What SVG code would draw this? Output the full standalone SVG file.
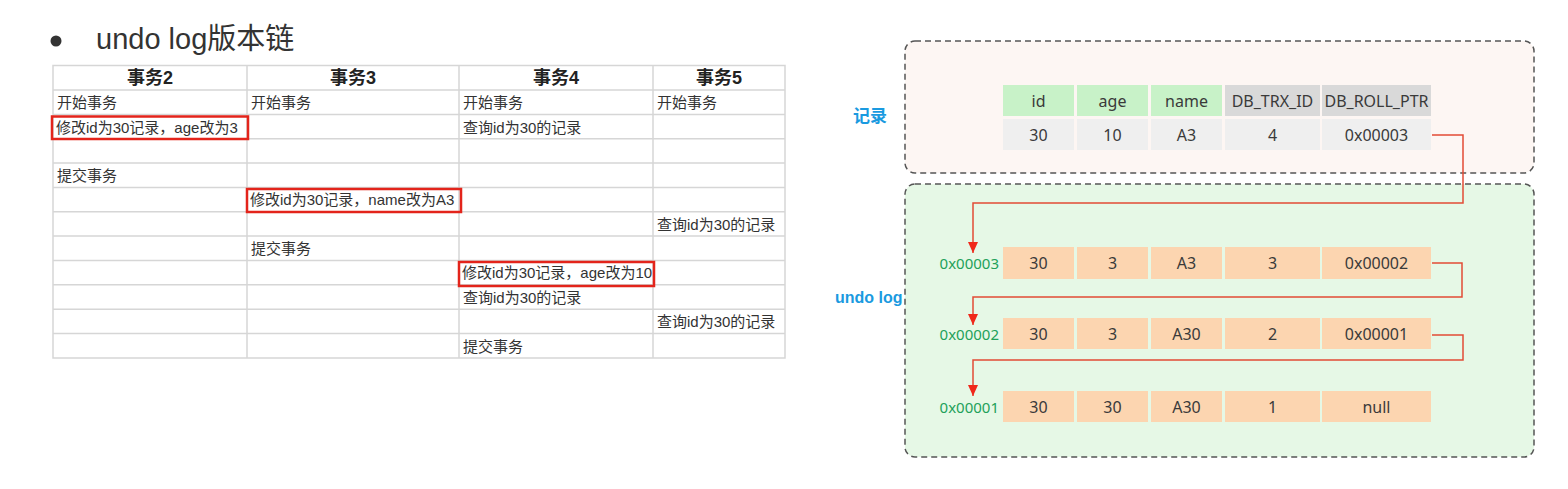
<svg xmlns="http://www.w3.org/2000/svg" width="1568" height="489" viewBox="0 0 1568 489">
<style>
.t{font-family:"Liberation Sans","Noto Sans CJK SC",sans-serif;font-size:15px;fill:#333}
.th{font-family:"Liberation Sans","Noto Sans CJK SC",sans-serif;font-size:18px;font-weight:bold;fill:#222;text-anchor:middle}
.grid{stroke:#d6d6d6;stroke-width:1.5;fill:none}
.hl{fill:none;stroke:#e3241b;stroke-width:2.5}
.c{font-family:"Noto Sans","Liberation Sans",sans-serif;font-size:16px;fill:#3a3a3a;text-anchor:middle;dominant-baseline:central}
.addr{font-family:"Noto Sans","Liberation Sans",sans-serif;font-size:15px;fill:#22a15a;text-anchor:end;dominant-baseline:central}
.side{font-family:"Liberation Sans","Noto Sans CJK SC",sans-serif;font-weight:bold;fill:#1a9ae0;dominant-baseline:central}
.hg{fill:#c8f2c8}.hx{fill:#d9d9d9}.rd{fill:#efefef}.ud{fill:#fcd5b0}
.box{stroke:#555;stroke-width:1.5;stroke-dasharray:6 4}
.conn{fill:none;stroke:#e24b36;stroke-width:1.5}
</style>
<defs>
<marker id="ah" markerUnits="userSpaceOnUse" markerWidth="12" markerHeight="12" viewBox="0 0 12 12" refX="11" refY="6" orient="auto">
<path d="M0 1 L11 6 L0 11 Z" fill="#f0281a"/>
</marker>
</defs>
<rect width="1568" height="489" fill="#fff"/>

<g id="title">
<circle cx="56" cy="41" r="5.5" fill="#333"/>
<text x="96" y="49" font-family="Liberation Sans,Noto Sans CJK SC,sans-serif" font-size="29" fill="#333">undo log版本链</text>
</g>

<g id="table">
<rect x="53" y="65.5" width="732" height="292.5" fill="#fff" class="grid"/>
<path class="grid" d="M53 90H785M53 114.4H785M53 138.7H785M53 163H785M53 187.4H785M53 211.8H785M53 236.1H785M53 260.5H785M53 284.8H785M53 309.2H785M53 333.5H785M247 65.5V358M459 65.5V358M653 65.5V358"/>
<text class="th" x="150" y="84">事务2</text>
<text class="th" x="353" y="84">事务3</text>
<text class="th" x="556" y="84">事务4</text>
<text class="th" x="719" y="84">事务5</text>
<text class="t" x="57" y="108">开始事务</text>
<text class="t" x="251" y="108">开始事务</text>
<text class="t" x="463" y="108">开始事务</text>
<text class="t" x="657" y="108">开始事务</text>
<text class="t" x="56" y="133">修改id为30记录，age改为3</text>
<text class="t" x="463" y="133">查询id为30的记录</text>
<text class="t" x="57" y="181">提交事务</text>
<text class="t" x="250" y="205">修改id为30记录，name改为A3</text>
<text class="t" x="657" y="230">查询id为30的记录</text>
<text class="t" x="251" y="254">提交事务</text>
<text class="t" x="462" y="278">修改id为30记录，age改为10</text>
<text class="t" x="463" y="303">查询id为30的记录</text>
<text class="t" x="657" y="327">查询id为30的记录</text>
<text class="t" x="463" y="352">提交事务</text>
<rect class="hl" x="52" y="116.5" width="196" height="22.5"/>
<rect class="hl" x="247" y="189" width="214" height="23"/>
<rect class="hl" x="459" y="262" width="195" height="24"/>
</g>

<g id="record-area">
<rect class="box" x="905" y="41" width="629" height="132" rx="10" fill="#fdf6f3"/>
<text class="side" x="853" y="116" font-size="17">记录</text>
</g>

<g id="undo-area">
<rect class="box" x="905" y="184" width="629" height="273" rx="10" fill="#e6f8e6"/>
<text class="side" x="835" y="297" font-size="16">undo log</text>
</g>

<g id="record">
<rect class="hg" x="1003" y="85" width="71" height="31"/>
<rect class="hg" x="1077" y="85" width="71" height="31"/>
<rect class="hg" x="1151" y="85" width="71" height="31"/>
<rect class="hx" x="1225" y="85" width="95" height="31"/>
<rect class="hx" x="1322" y="85" width="109" height="31"/>
<rect class="rd" x="1003" y="119" width="71" height="31"/>
<rect class="rd" x="1077" y="119" width="71" height="31"/>
<rect class="rd" x="1151" y="119" width="71" height="31"/>
<rect class="rd" x="1225" y="119" width="95" height="31"/>
<rect class="rd" x="1322" y="119" width="109" height="31"/>
<text class="c" x="1038.5" y="100.5">id</text>
<text class="c" x="1112.5" y="100.5">age</text>
<text class="c" x="1186.5" y="100.5">name</text>
<text class="c" x="1272.5" y="100.5">DB_TRX_ID</text>
<text class="c" x="1376.5" y="100.5">DB_ROLL_PTR</text>
<text class="c" x="1038.5" y="134.5">30</text>
<text class="c" x="1112.5" y="134.5">10</text>
<text class="c" x="1186.5" y="134.5">A3</text>
<text class="c" x="1272.5" y="134.5">4</text>
<text class="c" x="1376.5" y="134.5">0x00003</text>
</g>

<g id="undo-0x00003">
<text class="addr" x="999" y="263">0x00003</text>
<rect class="ud" x="1003" y="247" width="71" height="32"/>
<rect class="ud" x="1077" y="247" width="71" height="32"/>
<rect class="ud" x="1151" y="247" width="71" height="32"/>
<rect class="ud" x="1225" y="247" width="95" height="32"/>
<rect class="ud" x="1322" y="247" width="109" height="32"/>
<text class="c" x="1038.5" y="263">30</text>
<text class="c" x="1112.5" y="263">3</text>
<text class="c" x="1186.5" y="263">A3</text>
<text class="c" x="1272.5" y="263">3</text>
<text class="c" x="1376.5" y="263">0x00002</text>
</g>

<g id="undo-0x00002">
<text class="addr" x="999" y="334">0x00002</text>
<rect class="ud" x="1003" y="318" width="71" height="31"/>
<rect class="ud" x="1077" y="318" width="71" height="31"/>
<rect class="ud" x="1151" y="318" width="71" height="31"/>
<rect class="ud" x="1225" y="318" width="95" height="31"/>
<rect class="ud" x="1322" y="318" width="109" height="31"/>
<text class="c" x="1038.5" y="333.5">30</text>
<text class="c" x="1112.5" y="333.5">3</text>
<text class="c" x="1186.5" y="333.5">A30</text>
<text class="c" x="1272.5" y="333.5">2</text>
<text class="c" x="1376.5" y="333.5">0x00001</text>
</g>

<g id="undo-0x00001">
<text class="addr" x="999" y="406.5">0x00001</text>
<rect class="ud" x="1003" y="391" width="71" height="31"/>
<rect class="ud" x="1077" y="391" width="71" height="31"/>
<rect class="ud" x="1151" y="391" width="71" height="31"/>
<rect class="ud" x="1225" y="391" width="95" height="31"/>
<rect class="ud" x="1322" y="391" width="109" height="31"/>
<text class="c" x="1038.5" y="406.5">30</text>
<text class="c" x="1112.5" y="406.5">30</text>
<text class="c" x="1186.5" y="406.5">A30</text>
<text class="c" x="1272.5" y="406.5">1</text>
<text class="c" x="1376.5" y="406.5">null</text>
</g>

<g id="connectors">
<path class="conn" d="M1432 135H1463V203H973V253" marker-end="url(#ah)"/>
<path class="conn" d="M1432 263H1462V297H973V325" marker-end="url(#ah)"/>
<path class="conn" d="M1432 335H1463V360H973V396" marker-end="url(#ah)"/>
</g>
</svg>
